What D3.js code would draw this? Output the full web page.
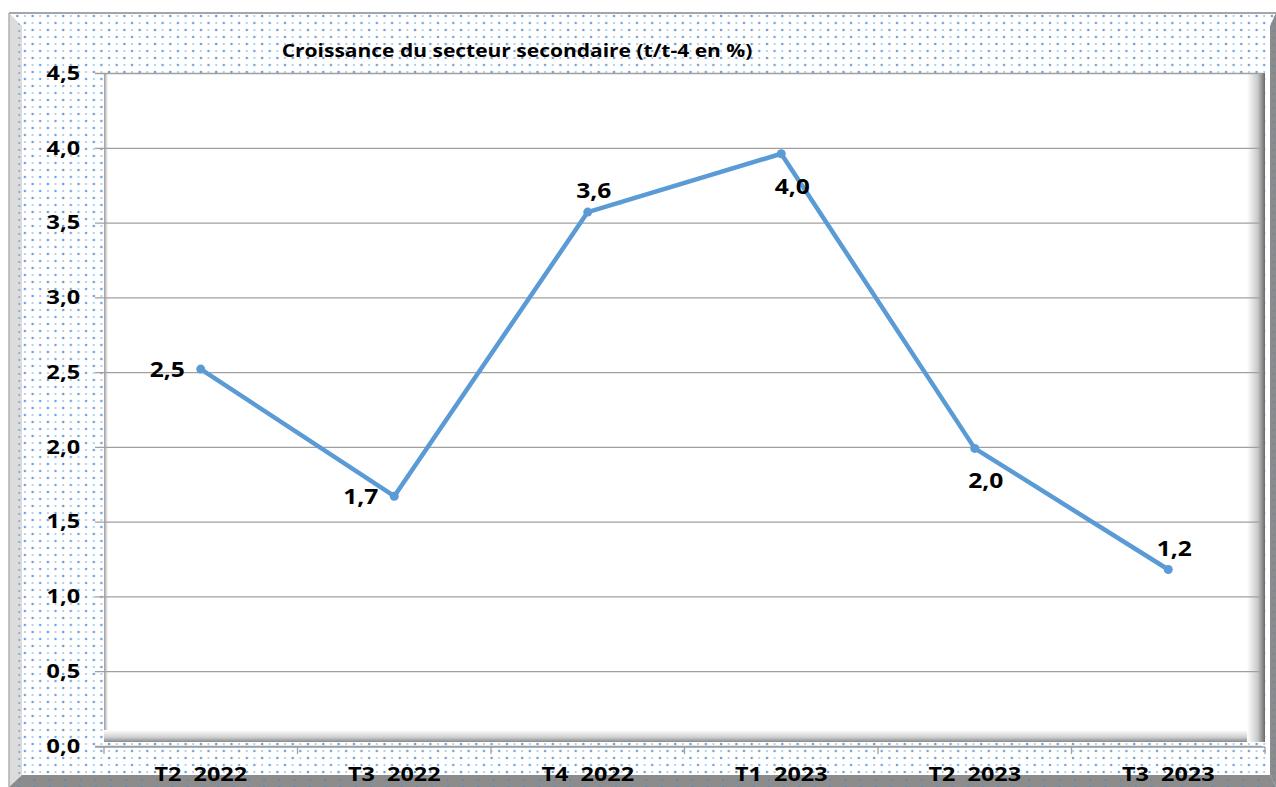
<!DOCTYPE html>
<html>
<head>
<meta charset="utf-8">
<script src="https://cdn.jsdelivr.net/npm/d3@7"></script>
<style>
  body { margin: 0; background: #fff; }
  svg { display: block; }
  text { font-family: "Open Sans", "Liberation Sans", sans-serif; font-weight: bold; fill: #000; }
</style>
</head>
<body>
<div id="vis"></div>
<script>
// chart data
var categories = ['T2  2022', 'T3  2022', 'T4  2022', 'T1  2023', 'T2  2023', 'T3  2023'];
var values = [2.52, 1.67, 3.57, 3.96, 1.99, 1.18];
var labels = ['2,5', '1,7', '3,6', '4,0', '2,0', '1,2'];
var labelPos = ['left', 'left', 'above', 'below', 'below', 'above'];
var yTicks = [0, 0.5, 1, 1.5, 2, 2.5, 3, 3.5, 4, 4.5];
var title = 'Croissance du secteur secondaire (t/t-4 en %)';

var width = 1276, height = 787;
var plot = {left: 104, right: 1265, top: 73, bottom: 746};
var sx = 1.2; // text in the original is drawn wide

var svg = d3.select('#vis').append('svg')
    .attr('width', width)
    .attr('height', height);

// put a widened text at (x, y)
function wideText(parent, x, y, size, anchor, str) {
    return parent.append('text')
        .attr('transform', 'translate(' + x + ',' + y + ') scale(' + sx + ',1)')
        .attr('font-size', size)
        .attr('text-anchor', anchor)
        .style('white-space', 'pre')
        .text(str);
}

var defs = svg.append('defs');

// dotted background pattern
var pat = defs.append('pattern')
    .attr('id', 'dots')
    .attr('patternUnits', 'userSpaceOnUse')
    .attr('width', 15.3)
    .attr('height', 14);
pat.append('rect').attr('width', 15.3).attr('height', 14).attr('fill', '#fff');
[[2, 2, 1.3, 0.85], [9.6, 2, 1.0, 0.55], [2, 9, 1.0, 0.55], [9.6, 9, 1.3, 0.8]].forEach(function(d) {
    pat.append('circle').attr('cx', d[0]).attr('cy', d[1]).attr('r', d[2])
        .attr('fill', '#4a90d9').attr('fill-opacity', d[3]);
});

var patDark = defs.append('pattern')
    .attr('id', 'dotsDark')
    .attr('patternUnits', 'userSpaceOnUse')
    .attr('width', 15.3)
    .attr('height', 7);
patDark.append('circle').attr('cx', 4).attr('cy', 3).attr('r', 1.1)
    .attr('fill', '#4a80c0').attr('fill-opacity', 0.6);

function grad(id, x1, y1, x2, y2, stops) {
    var g = defs.append('linearGradient').attr('id', id)
        .attr('x1', x1).attr('y1', y1).attr('x2', x2).attr('y2', y2);
    stops.forEach(function(s) {
        g.append('stop').attr('offset', s[0]).attr('stop-color', s[1]);
    });
}
grad('shR', 0, 0, 1, 0, [[0, '#ffffff'], [0.6, '#c8c8c8'], [1, '#6a6a6a']]);
grad('shB', 0, 0, 0, 1, [[0, '#ffffff'], [0.6, '#d0d0d0'], [1, '#8a8a8a']]);
grad('shL', 0, 0, 1, 0, [[0, '#9a9a9a'], [1, '#ffffff']]);

// outer frame with bevel
svg.append('rect').attr('x', 9).attr('y', 13).attr('width', width - 9).attr('height', height - 13)
    .attr('fill', 'url(#dots)');
svg.append('polygon')
    .attr('points', '9,13 22,26 22,775 9,787')
    .attr('fill', '#dcdcdc');
svg.append('polygon')
    .attr('points', '9,13 22,26 22,775 9,787')
    .attr('fill', 'url(#dotsDark)');
svg.append('polygon')
    .attr('points', '9,787 22,775 1270,775 1276,787')
    .attr('fill', '#8c8c8c');
svg.append('polygon')
    .attr('points', '1276,13 1270,26 1270,775 1276,787')
    .attr('fill', '#8c8c8c');
svg.append('polygon')
    .attr('points', '9,787 22,775 1270,775 1276,787')
    .attr('fill', 'url(#dotsDark)');
svg.append('polygon')
    .attr('points', '1276,13 1270,26 1270,775 1276,787')
    .attr('fill', 'url(#dotsDark)');
svg.append('line').attr('x1', 9).attr('x2', width).attr('y1', 13).attr('y2', 13)
    .attr('stroke', '#a6a6a6').attr('stroke-width', 2);
svg.append('line').attr('x1', 9).attr('x2', 9).attr('y1', 13).attr('y2', height)
    .attr('stroke', '#b0b0b0').attr('stroke-width', 1.5);

// title
wideText(svg, 517, 57, 17.5, 'middle', title);

// plot area with inset shading
var yScale = d3.scaleLinear().domain([0, 4.5]).range([plot.bottom, plot.top]);
var xScale = d3.scaleBand().domain(categories).range([plot.left, plot.right]);

svg.append('rect')
    .attr('x', plot.left).attr('y', plot.top)
    .attr('width', plot.right - plot.left).attr('height', plot.bottom - 4 - plot.top)
    .attr('fill', '#fff');
svg.append('rect')
    .attr('x', plot.left).attr('y', plot.top)
    .attr('width', 4).attr('height', plot.bottom - 4 - plot.top)
    .attr('fill', 'url(#shL)');
svg.append('rect')
    .attr('x', plot.left).attr('y', plot.bottom - 16)
    .attr('width', plot.right - plot.left).attr('height', 12)
    .attr('fill', 'url(#shB)');
svg.append('rect')
    .attr('x', plot.right - 18).attr('y', plot.top)
    .attr('width', 18).attr('height', plot.bottom - 4 - plot.top)
    .attr('fill', 'url(#shR)');

// gridlines and y axis
var yAxis = d3.axisLeft(yScale)
    .tickValues(yTicks)
    .tickSize(0)
    .tickFormat(function(d) { return d3.format('.1f')(d).replace('.', ','); });

var yAxisG = svg.append('g')
    .attr('transform', 'translate(' + (plot.left - 9) + ',0)')
    .call(yAxis);
yAxisG.select('.domain').remove();
yAxisG.selectAll('.tick line').attr('stroke', '#a0a0a0').attr('stroke-width', 1.3)
    .attr('x1', 0).attr('x2', plot.right - 3 - plot.left + 9);
yAxisG.selectAll('.tick text')
    .attr('x', -15 / sx)
    .attr('transform', 'scale(' + sx + ',1)')
    .attr('font-size', 19.5)
    .attr('font-family', '"Open Sans", sans-serif')
    .attr('font-weight', 'bold')
    .attr('fill', '#000');

// x axis
var xAxisG = svg.append('g')
    .attr('transform', 'translate(0,' + (plot.bottom + 1) + ')');
xAxisG.append('line')
    .attr('x1', plot.left - 9).attr('x2', plot.right)
    .attr('stroke', '#a0a0a0').attr('stroke-width', 1.3);
var bounds = categories.map(function(c) { return xScale(c); }).concat([plot.right]);
xAxisG.selectAll('.xtick').data(bounds).enter().append('line')
    .attr('x1', function(d) { return d; }).attr('x2', function(d) { return d; })
    .attr('y1', 0).attr('y2', 7)
    .attr('stroke', '#a0a0a0').attr('stroke-width', 1.3);
categories.forEach(function(c) {
    wideText(xAxisG, xScale(c) + xScale.bandwidth() / 2, 34, 19.5, 'middle', c);
});

// line series
var points = categories.map(function(c, i) {
    return {x: xScale(c) + xScale.bandwidth() / 2, y: yScale(values[i]), label: labels[i], pos: labelPos[i]};
});

svg.append('path')
    .datum(points)
    .attr('d', d3.line().x(function(d) { return d.x; }).y(function(d) { return d.y; }))
    .attr('fill', 'none')
    .attr('stroke', '#5b9bd5')
    .attr('stroke-width', 4.5)
    .attr('stroke-linejoin', 'round');

svg.selectAll('.pt').data(points).enter().append('circle')
    .attr('cx', function(d) { return d.x; })
    .attr('cy', function(d) { return d.y; })
    .attr('r', 4.5)
    .attr('fill', '#5b9bd5');

// data labels
points.forEach(function(d) {
    if (d.pos == 'left') wideText(svg, d.x - 16, d.y + 8, 20.5, 'end', d.label);
    else if (d.pos == 'above') wideText(svg, d.x + 6, d.y - 14, 20.5, 'middle', d.label);
    else wideText(svg, d.x + 11, d.y + 40, 20.5, 'middle', d.label);
});
</script>
</body>
</html>
